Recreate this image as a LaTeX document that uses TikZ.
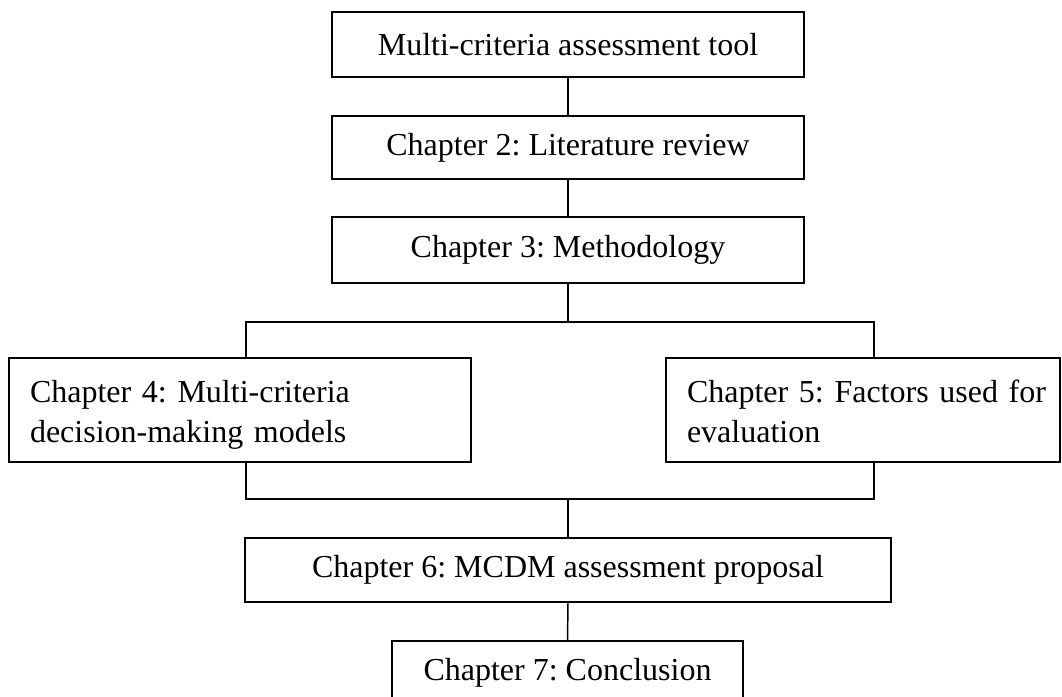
\documentclass[tikz,border=0pt]{standalone}
\usepackage{fontspec}
\setmainfont{Liberation Serif}
\frenchspacing
\begin{document}
\begin{tikzpicture}[x=0.75pt,y=-0.75pt,
  box/.style={draw, line width=1.1pt, rectangle, inner sep=0pt, outer sep=0pt,
    font=\fontsize{24pt}{30pt}\selectfont},
  twoline/.style={box, align=left, inner xsep=15.75pt, text height=16.5pt, text depth=28.5pt},
  link/.style={line width=1.1pt}]
\useasboundingbox (0,0) rectangle (1062,696);

% chapter boxes, top to bottom
\node[box, minimum width=354pt, minimum height=48.75pt] (b1) at (568,44.5) {Multi-criteria assessment tool};
\node[box, minimum width=354pt, minimum height=47.25pt] (b2) at (568,147.5) {Chapter 2: Literature review};
\node[box, minimum width=354pt, minimum height=49.5pt] (b3) at (568,250) {Chapter 3: Methodology};
\node[twoline, text width=315pt, minimum height=78pt] (b4) at (240,410) {Chapter 4: Multi-criteria\\decision-making models};
\node[twoline, text width=264pt, minimum height=78pt] (b5) at (863,410) {\mbox{Chapter 5: Factors used for}\\evaluation};
\node[box, minimum width=484.5pt, minimum height=48pt] (b6) at (568,570) {Chapter 6: MCDM assessment proposal};
\node[box, minimum width=263.25pt, minimum height=48pt] (b7) at (567.5,673) {Chapter 7: Conclusion};

% split and join points of the branching connectors
\coordinate (sL) at (246,322);
\coordinate (sR) at (874,322);
\coordinate (jL) at (246,499);
\coordinate (jR) at (874,499);

% connectors
\draw[link] (b1.south) -- (b2.north);
\draw[link] (b2.south) -- (b3.north);
\draw[link] (b3.south) -- (b3.south |- sL);
\draw[link] (sL |- b4.north) -- (sL) -- (sR) -- (sR |- b5.north);
\draw[link] (jL |- b4.south) -- (jL) -- (jR) -- (jR |- b5.south);
\draw[link] (b6.north |- jL) -- (b6.north);
\draw[link] (b6.south) -- (b7.north);
\end{tikzpicture}
\end{document}
